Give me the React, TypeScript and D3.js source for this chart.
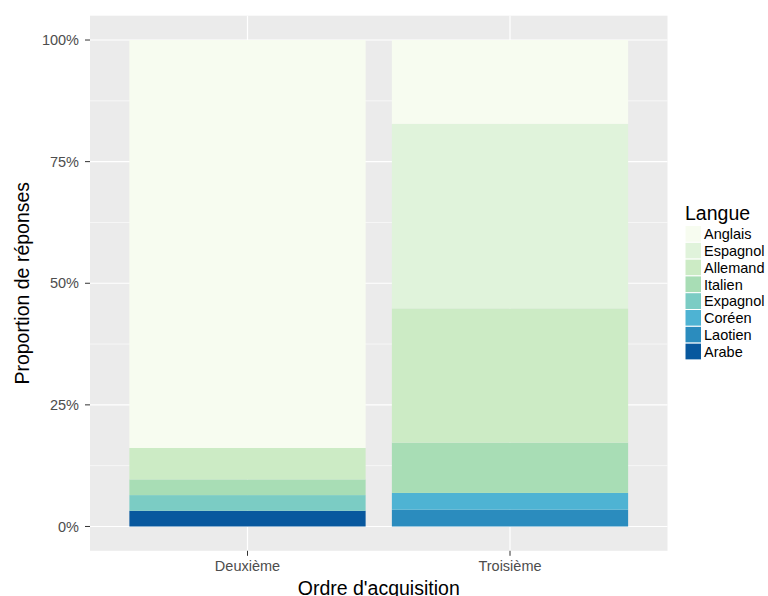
import React from "react";
import * as d3 from "d3";

const categories = ["Deuxième", "Troisième"];
const languages = ["Anglais", "Espagnol", "Allemand", "Italien", "Expagnol", "Coréen", "Laotien", "Arabe"];
const colors = ["#f7fcf0", "#e0f3db", "#ccebc5", "#a8ddb5", "#7bccc4", "#4eb3d3", "#2b8cbe", "#08589e"];
// counts per language for each category
const deuxieme = [26, 0, 2, 1, 1, 0, 0, 1];
const troisieme = [5, 11, 8, 3, 0, 1, 1, 0];
const yTicks = [0, 0.25, 0.5, 0.75, 1];
const yTickLabels = ["0%", "25%", "50%", "75%", "100%"];

const W = 768, H = 596;
const panel = { left: 90, right: 667.5, top: 15.7, bottom: 550.8 };
const FONT = "'Liberation Sans', Arial, sans-serif";

export default function App() {
  const y = d3.scaleLinear().domain([-0.05, 1.05]).range([panel.bottom, panel.top]);
  const x = d3.scaleLinear().domain([0.4, 2.6]).range([panel.left, panel.right]);
  const series = [deuxieme, troisieme];
  const bars: any[] = [];
  series.forEach((vals, ci) => {
    const total = d3.sum(vals);
    let cum = 0;
    for (let li = languages.length - 1; li >= 0; li--) {
      const v = vals[li] / total;
      if (vals[li] > 0) {
        bars.push(
          <rect key={`${ci}-${li}`} x={x(ci + 1 - 0.45)} width={x(ci + 1 + 0.45) - x(ci + 1 - 0.45)}
            y={y(cum + v)} height={y(cum) - y(cum + v)} fill={colors[li]} />
        );
      }
      cum += v;
    }
  });
  const minor = [0.125, 0.375, 0.625, 0.875];
  const keyTop = 225.5, keyH = 16.8;
  return (
    <svg width={W} height={H} style={{ position: "absolute", left: 0, top: 0, background: "#fff" }} fontFamily={FONT}>
      <rect x={panel.left} y={panel.top} width={panel.right - panel.left} height={panel.bottom - panel.top} fill="#ebebeb" />
      {minor.map((m) => (
        <line key={m} x1={panel.left} x2={panel.right} y1={y(m)} y2={y(m)} stroke="#fff" strokeWidth={0.6} />
      ))}
      {yTicks.map((t) => (
        <line key={t} x1={panel.left} x2={panel.right} y1={y(t)} y2={y(t)} stroke="#fff" strokeWidth={1.2} />
      ))}
      {categories.map((c, i) => (
        <line key={c} x1={x(i + 1)} x2={x(i + 1)} y1={panel.top} y2={panel.bottom} stroke="#fff" strokeWidth={1.2} />
      ))}
      {bars}
      {yTicks.map((t, i) => (
        <g key={t}>
          <line x1={panel.left - 5} x2={panel.left} y1={y(t)} y2={y(t)} stroke="#333" strokeWidth={1} />
          <text x={79} y={y(t)} dy="0.35em" textAnchor="end" fontSize={14.5} fill="#4d4d4d">{yTickLabels[i]}</text>
        </g>
      ))}
      {categories.map((c, i) => (
        <g key={c}>
          <line x1={x(i + 1)} x2={x(i + 1)} y1={panel.bottom} y2={panel.bottom + 5} stroke="#333" strokeWidth={1} />
          <text x={x(i + 1)} y={571} textAnchor="middle" fontSize={14.5} fill="#4d4d4d">{c}</text>
        </g>
      ))}
      <text x={(panel.left + panel.right) / 2} y={595} textAnchor="middle" fontSize={19.5} fill="#000">Ordre d'acquisition</text>
      <text transform={`translate(29,${(panel.top + panel.bottom) / 2}) rotate(-90)`} textAnchor="middle" fontSize={19.5} fill="#000">Proportion de réponses</text>
      <text x={685} y={220} fontSize={19.5} fill="#000">Langue</text>
      {languages.map((l, i) => (
        <g key={l}>
          <rect x={685} y={keyTop + i * keyH} width={16.5} height={keyH} fill={colors[i]} stroke="#fff" strokeWidth={1} />
          <text x={704} y={keyTop + i * keyH + keyH / 2} dy="0.36em" fontSize={14.5} fill="#000">{l}</text>
        </g>
      ))}
    </svg>
  );
}
